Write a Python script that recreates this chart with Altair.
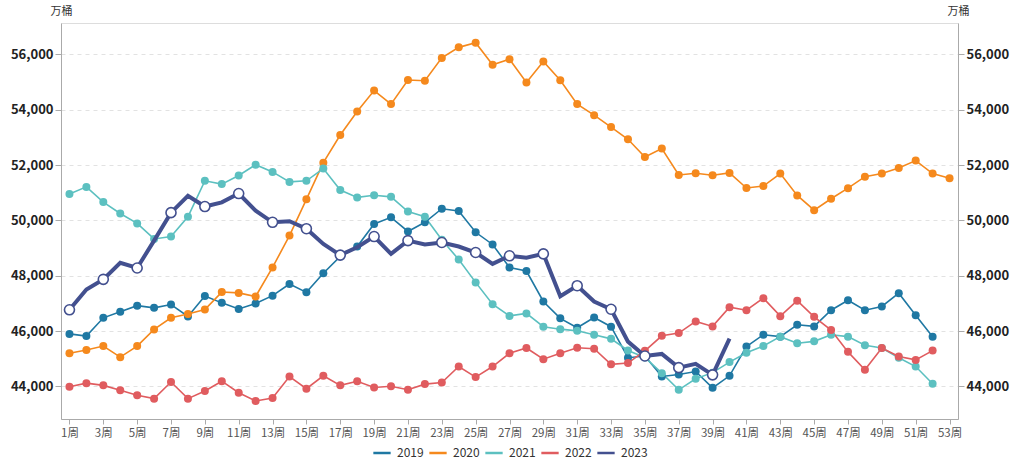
import altair as alt
import pandas as pd

years = ["2019", "2020", "2021", "2022", "2023"]
colors = ["#1f78a3", "#f5891d", "#5cc0c0", "#e05c5f", "#43508f"]

v2019 = [45900, 45820, 46480, 46700, 46920, 46840, 46960, 46530, 47270, 47020,
         46800, 47000, 47280, 47700, 47400, 48090, 48700, 49055, 49870, 50110,
         49600, 49930, 50420, 50340, 49570, 49130, 48300, 48170, 47070, 46460,
         46120, 46490, 46160, 45040, 45100, 44360, 44430, 44540, 43950, 44385,
         45440, 45870, 45800, 46230, 46170, 46755, 47115, 46755, 46890, 47370,
         46575, 45800]
v2020 = [45200, 45320, 45460, 45060, 45460, 46060, 46480, 46620, 46780, 47410,
         47380, 47250, 48300, 49450, 50760, 52085, 53085, 53930, 54690, 54200,
         55070, 55045, 55870, 56250, 56420, 55620, 55820, 54985, 55740, 55060,
         54200, 53800, 53370, 52930, 52290, 52595, 51640, 51700, 51630, 51715,
         51170, 51240, 51690, 50900, 50370, 50780, 51165, 51580, 51690, 51895,
         52160, 51690, 51525]
v2021 = [50950, 51210, 50660, 50250, 49890, 49330, 49415, 50130, 51430, 51310,
         51620, 52010, 51750, 51390, 51430, 51870, 51095, 50830, 50910, 50850,
         50320, 50130, 49300, 48585, 47760, 46970, 46550, 46640, 46160, 46070,
         46010, 45870, 45720, 45300, 45050, 44480, 43880, 44280, 44500, 44880,
         45220, 45460, 45800, 45560, 45630, 45870, 45800, 45490, 45390, 45040,
         44720, 44100]
v2022 = [43990, 44120, 44040, 43860, 43680, 43560, 44160, 43560, 43835, 44190,
         43775, 43475, 43580, 44360, 43920, 44385, 44040, 44190, 43965, 44010,
         43880, 44085, 44145, 44720, 44340, 44720, 45200, 45390, 44985, 45200,
         45400, 45365, 44800, 44845, 45290, 45830, 45930, 46350, 46170, 46865,
         46755, 47190, 46540, 47100, 46515, 46040, 45250, 44600, 45390, 45080,
         44960, 45295]
v2023 = [46770, 47500, 47870, 48470, 48280, 49270, 50280, 50890, 50500, 50650,
         50970, 50350, 49930, 49970, 49700, 49150, 48745, 49030, 49415, 48790,
         49270, 49130, 49200, 49055, 48840, 48430, 48720, 48650, 48790, 47260,
         47640, 47070, 46790, 45620, 45100, 45175, 44680, 44815, 44420, 45725]

x_ticks = list(range(1, 54, 2))
y_ticks = [44000, 46000, 48000, 50000, 52000, 54000, 56000]
unit = "万桶"

rows = []
for yr, vals in zip(years, [v2019, v2020, v2021, v2022, v2023]):
    for i, v in enumerate(vals):
        rows.append({"week": i + 1, "year": yr, "value": v})
df = pd.DataFrame(rows)

FONT = "Noto Sans CJK SC"

xenc = alt.X("week:Q",
             scale=alt.Scale(domain=[0.5, 53.5], nice=False, zero=False),
             axis=alt.Axis(values=x_ticks, labelExpr="datum.value + '周'", title=None,
                           grid=False, domainColor="#aaaaaa", tickColor="#aaaaaa",
                           tickSize=5, labelFontSize=11.5, labelColor="#555555",
                           labelPadding=3, labelFont=FONT, labelFlush=False))

ysc = alt.Scale(domain=[42825, 57130], nice=False, zero=False)

def yaxis(orient, grid):
    return alt.Axis(values=y_ticks, format=",.0f", orient=orient, title=unit,
                    titleAngle=0, titleX=0, titleY=-12, titleAlign="center",
                    titleBaseline="middle", titleFontSize=11, titleFontWeight="normal",
                    titleColor="#333333", titleFont=FONT,
                    grid=grid, gridDash=[4, 4], gridColor="#e2e2e2",
                    domainColor="#aaaaaa", tickColor="#aaaaaa", tickSize=6,
                    labelFontSize=13, labelFontWeight="bold", labelColor="#222222",
                    labelPadding=2, labelFont=FONT)

yleft = alt.Y("value:Q", scale=ysc, axis=yaxis("left", True))
yright = alt.Y("value:Q", scale=ysc, axis=yaxis("right", False))

color = alt.Color("year:N", scale=alt.Scale(domain=years, range=colors),
                  legend=alt.Legend(title=None, orient="none", legendX=311, legendY=420,
                                    direction="horizontal", columns=5,
                                    symbolType="stroke", symbolStrokeWidth=2.5,
                                    symbolSize=300, labelFontSize=12,
                                    labelColor="#333333", labelFont=FONT,
                                    columnPadding=0, labelOffset=5))

base = alt.Chart(df)
old = base.transform_filter("datum.year != '2023'")
lines = old.mark_line(strokeWidth=1.6).encode(x=xenc, y=yleft, color=color, detail="year:N")
pts = old.mark_circle(size=64, opacity=1).encode(x=xenc, y=yleft, color=color)
new = base.transform_filter("datum.year == '2023'")
l23 = new.mark_line(strokeWidth=4).encode(x=xenc, y=yleft, color=color)
p23 = new.transform_filter("datum.week % 2 == 1").mark_point(
    shape="circle", filled=True, fill="white", stroke="#43508f", strokeWidth=1.6,
    size=100, opacity=1).encode(x=xenc, y=yleft)

left = alt.layer(lines, pts, l23, p23)
right = base.mark_point(opacity=0).encode(x=xenc, y=yright)

chart = alt.layer(left, right).resolve_scale(y="independent").properties(
    width=897, height=396,
    autosize=alt.AutoSizeParams(type="none"),
    padding={"left": 61, "top": 23, "right": 59, "bottom": 41},
).configure_view(stroke=None).configure(font=FONT)

chart.save("out.html", embed_options={"renderer": "svg", "actions": False})
